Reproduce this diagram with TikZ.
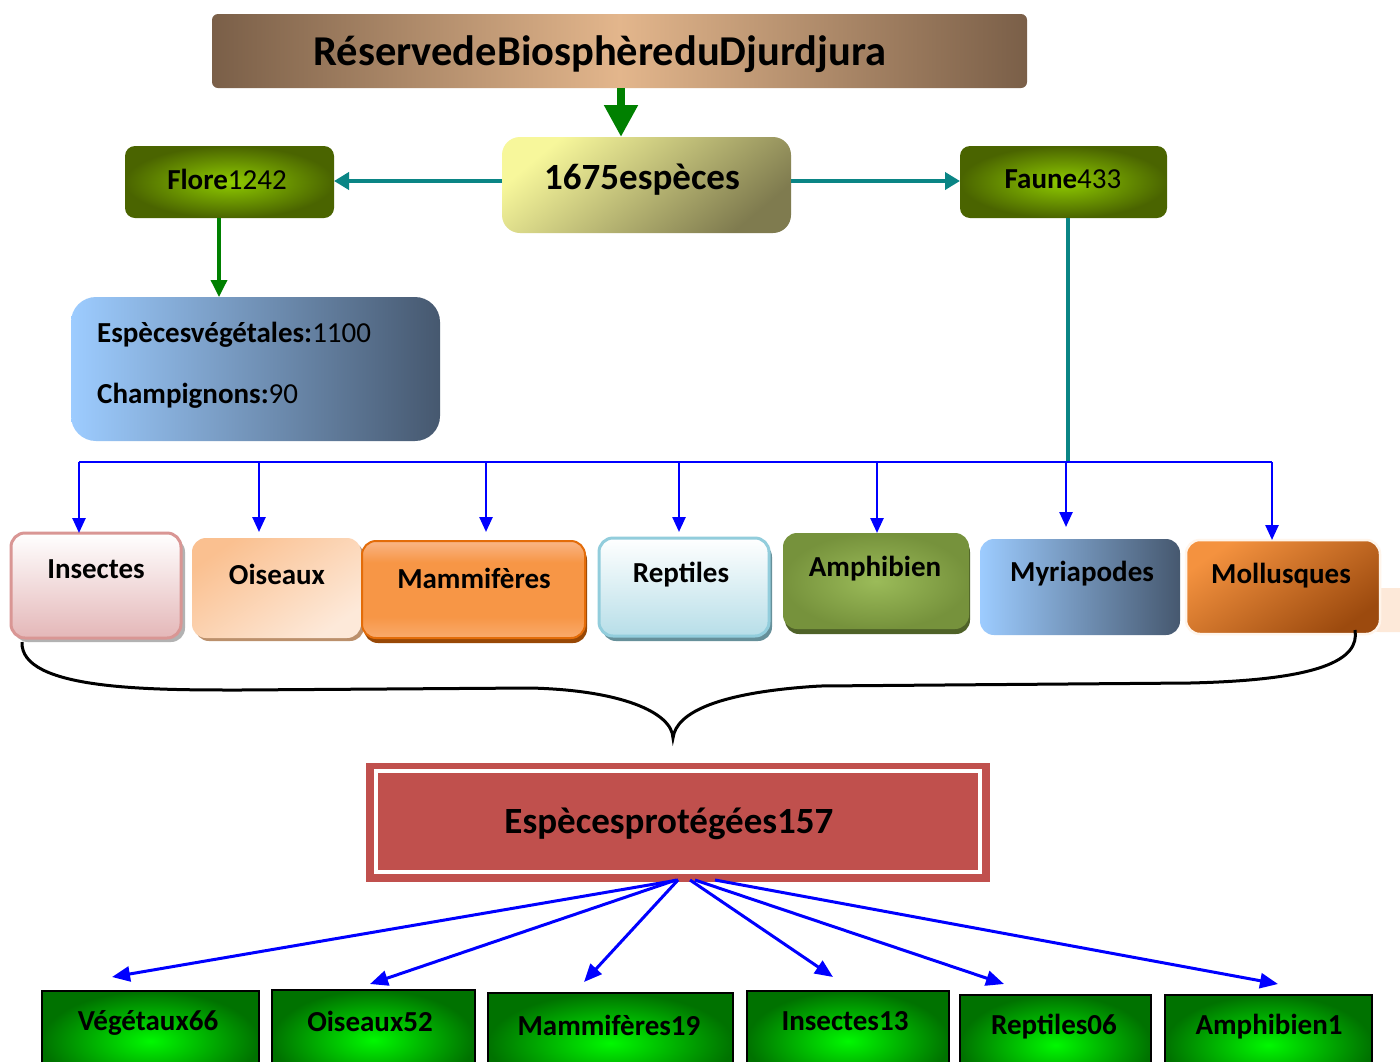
\documentclass[tikz,border=0pt]{standalone}
\usepackage{fontspec}
\setmainfont{Carlito}
\usetikzlibrary{arrows.meta}
\definecolor{brownD}{HTML}{7A5F48}
\definecolor{brownL}{HTML}{E3B68C}
\definecolor{yellowL}{HTML}{F7F79B}
\definecolor{oliveD}{HTML}{7F7B4F}
\definecolor{floreIn}{HTML}{8FCB00}
\definecolor{floreOut}{HTML}{4A6400}
\definecolor{blueL}{HTML}{9DCCFF}
\definecolor{blueD}{HTML}{46586F}
\definecolor{pinkB}{HTML}{E4B7B8}
\definecolor{pinkBorder}{HTML}{D99694}
\definecolor{peachA}{HTML}{FAC090}
\definecolor{peachB}{HTML}{FDE9D9}
\definecolor{orangeM}{HTML}{F79646}
\definecolor{orangeT}{HTML}{F9B586}
\definecolor{orangeBt}{HTML}{F9AA6C}
\definecolor{orangeBorder}{HTML}{E36C09}
\definecolor{orangeSh}{HTML}{984806}
\definecolor{reptB}{HTML}{B7DEE8}
\definecolor{reptBorder}{HTML}{92CDDC}
\definecolor{amphIn}{HTML}{9BBB59}
\definecolor{amphOut}{HTML}{76923C}
\definecolor{amphSh}{HTML}{4F6228}
\definecolor{mollA}{HTML}{F4923F}
\definecolor{mollB}{HTML}{9C4A0E}
\definecolor{redBox}{HTML}{C0504D}
\definecolor{greenIn}{HTML}{00F800}
\definecolor{greenOut}{HTML}{007200}
\definecolor{tealA}{HTML}{0A8585}
\definecolor{greenArr}{HTML}{008000}
\definecolor{blueArr}{HTML}{0000FF}
\pgfdeclareverticalshading{mammshade}{100bp}{color(0bp)=(orangeBt); color(25bp)=(orangeBt); color(36bp)=(orangeM); color(64bp)=(orangeM); color(75bp)=(orangeT); color(100bp)=(orangeT)}
\tikzset{
  base/.style={inner sep=0pt, outer sep=0pt},
  rowtxt/.style={font=\fontsize{29}{30}\selectfont\bfseries, inner sep=0pt},
  bigtxt/.style={font=\fontsize{37}{38}\selectfont\bfseries, inner sep=0pt},
  busarr/.style={draw=blueArr, line width=2.5pt, -{Triangle[width=13pt,length=15pt]}},
  protarr/.style={draw=blueArr, line width=3pt, -{Triangle[width=15pt,length=18pt]}},
  tealarr/.style={draw=tealA, line width=4pt, -{Triangle[width=17pt,length=15pt]}},
  greenbox/.style={base, draw=black, line width=2.5pt, inner color=greenIn, outer color=greenOut}
}
\begin{document}
\begin{tikzpicture}[x=1pt,y=-1pt]
\useasboundingbox (0,0) rectangle (1400,1061);
\clip (0,0) rectangle (1400,1061);
\fill[white] (0,0) rectangle (1400,1061);

% title
\node[base, rounded corners=6pt, left color=brownD, right color=brownD, middle color=brownL,
      minimum width=815pt, minimum height=74pt] (title) at (619.5,51) {};
\node[font=\fontsize{42.5}{44}\selectfont\bfseries, inner sep=0pt] (ttitle) at (600,54) {RéservedeBiosphèreduDjurdjura};

% 1675 especes
\node[base, rounded corners=18pt, top color=yellowL, bottom color=oliveD, shading angle=40,
      minimum width=289pt, minimum height=96pt] (total) at (646.5,185) {};
\node[bigtxt] (ttotal) at (642,180) {1675espèces};

% flore / faune
\node[base, rounded corners=10pt, inner color=floreIn, outer color=floreOut,
      minimum width=209pt, minimum height=72pt] (flore) at (229.5,182) {};
\node[rowtxt, font=\fontsize{29}{30}\selectfont] (tflore) at (227,179) {\textbf{Flore}1242};
\node[base, rounded corners=10pt, inner color=floreIn, outer color=floreOut,
      minimum width=207pt, minimum height=72pt] (faune) at (1063.5,182) {};
\node[rowtxt, font=\fontsize{29}{30}\selectfont] (tfaune) at (1063,179) {\textbf{Faune}433};

% arrows top
\draw[draw=greenArr, line width=8pt, -{Triangle[width=32pt,length=32pt]}] (title.south -| 621,0) -- (total.north -| 621,0);
\draw[tealarr] (total.west |- 0,181) -- (flore.east |- 0,181);
\draw[tealarr] (total.east |- 0,181) -- (faune.west |- 0,181);

% especes vegetales
\node[base, rounded corners=25pt, left color=blueL, right color=blueD,
      minimum width=369pt, minimum height=144pt] (vege) at (255.5,369) {};
\node[rowtxt, font=\fontsize{29}{30}\selectfont, anchor=west] (tvege1) at (97,335) {\textbf{Espècesvégétales:}1100};
\node[rowtxt, font=\fontsize{29}{30}\selectfont, anchor=west] (tvege2) at (97,396) {\textbf{Champignons:}90};
\draw[draw=greenArr, line width=3.5pt, -{Triangle[width=16pt,length=17pt]}] (flore.south -| 219,0) -- (vege.north -| 219,0);

% faune line and bus
\coordinate (fj) at (1068,462);
\draw[draw=tealA, line width=4pt] (faune.south -| fj) -- (fj);
\coordinate (b1) at (79,462);
\coordinate (b2) at (259,462);
\coordinate (b3) at (486,462);
\coordinate (b4) at (679,462);
\coordinate (b5) at (877,462);
\coordinate (b6) at (1066,462);
\coordinate (b7) at (1272,462);
\draw[draw=blueArr, line width=2.5pt] (b1) -- (b7);

% row boxes
\fill[peachB, rounded corners=20pt] (1360,588) rectangle (1440,632);
% Insectes
\fill[black!30, rounded corners=14pt] (14,538) rectangle (185,642);
\node[base, rounded corners=14pt, top color=white, bottom color=pinkB, draw=pinkBorder, line width=3pt,
      minimum width=170pt, minimum height=105pt] (insectes) at (96,585.5) {};
\node[rowtxt] (tinsectes) at (96,569) {Insectes};
% Oiseaux
\fill[black!25!peachA, rounded corners=14pt] (195,542) rectangle (364,641);
\node[base, rounded corners=14pt, top color=peachA, bottom color=peachB, shading angle=35,
      minimum width=169pt, minimum height=100pt] (oiseaux) at (276.5,588) {};
\node[rowtxt] (toiseaux) at (277,574) {Oiseaux};
% Mammiferes
\fill[orangeSh, rounded corners=14pt] (364,546) rectangle (587,643);
\node[base, rounded corners=14pt, shading=mammshade,
      draw=orangeBorder, line width=2pt, minimum width=223pt, minimum height=97pt] (mammif) at (473.5,589.5) {};
\node[rowtxt] (tmammif) at (474,578) {Mammifères};
% Reptiles
\fill[black!30!reptBorder, rounded corners=14pt] (602,543) rectangle (772,641);
\node[base, rounded corners=14pt, top color=white, bottom color=reptB, draw=reptBorder, line width=3pt,
      minimum width=170pt, minimum height=98pt] (reptiles) at (684,587) {};
\node[rowtxt] (treptiles) at (681,575) {Reptiles};
% Amphibien
\fill[amphSh, rounded corners=14pt] (785,538) rectangle (970,634);
\node[base, rounded corners=14pt, inner color=amphIn, outer color=amphOut,
      minimum width=186pt, minimum height=96pt] (amphib) at (876,581) {};
\node[rowtxt] (tamphib) at (875,569) {Amphibien};
% Myriapodes
\node[base, rounded corners=14pt, left color=blueL, right color=blueD,
      minimum width=200pt, minimum height=96pt] (myria) at (1080,587) {};
\node[rowtxt] (tmyria) at (1082,574) {Myriapodes};
% Mollusques
\node[base, rounded corners=14pt, top color=mollA, bottom color=mollB, shading angle=35,
      draw=white!92!orange, line width=2.5pt, minimum width=194pt, minimum height=94pt] (mollus) at (1283,587) {};
\node[rowtxt] (tmollus) at (1281,576) {Mollusques};

% bus arrows
\draw[busarr] (b1) -- (b1 |- insectes.north);
\draw[busarr] (b2) -- (b2 |- 0,532);
\draw[busarr] (b3) -- (b3 |- 0,532);
\draw[busarr] (b4) -- (b4 |- 0,532);
\draw[busarr] (b5) -- (b5 |- amphib.north);
\draw[busarr] (b6) -- (b6 |- 0,527);
\draw[busarr] (b7) -- (b7 |- mollus.north);

% brace
\coordinate (brL) at (22,642);
\coordinate (brM) at (673,738);
\coordinate (brR) at (1355,630);
\draw[line width=3pt, black] (brL) .. controls (20,690) and (150,690) .. (240,690)
   -- (530,688) .. controls (620,690) and (672,712) .. (brM)
   .. controls (676,712) and (720,692) .. (820,686)
   -- (1190,683) .. controls (1320,680) and (1360,660) .. (brR);

% protected species
\node[base, fill=redBox, minimum width=624pt, minimum height=119pt] (prot) at (678,822.5) {};
\draw[white, line width=4pt] ([shift={(10,8)}]prot.north west) rectangle ([shift={(-10,-10)}]prot.south east);
\node[bigtxt] (tprot) at (669,824) {Espècesprotégées157};

% bottom boxes
\node[greenbox, minimum width=217pt, minimum height=100pt] (g1) at (150.5,1041) {};
\node[rowtxt] (tg1) at (148,1023) {Végétaux66};
\node[greenbox, minimum width=203pt, minimum height=100pt] (g2) at (373.5,1040) {};
\node[rowtxt] (tg2) at (370,1021) {Oiseaux52};
\node[greenbox, minimum width=245pt, minimum height=100pt] (g3) at (610.5,1043) {};
\node[rowtxt] (tg3) at (609,1025) {Mammifères19};
\node[greenbox, minimum width=202pt, minimum height=100pt] (g4) at (848,1041) {};
\node[rowtxt] (tg4) at (845,1021) {Insectes13};
\node[greenbox, minimum width=191pt, minimum height=100pt] (g5) at (1055.5,1045) {};
\node[rowtxt] (tg5) at (1054,1027) {Reptiles06};
\node[greenbox, minimum width=207pt, minimum height=100pt] (g6) at (1268.5,1045) {};
\node[rowtxt] (tg6) at (1269,1027) {Amphibien1};

% protected arrows
\coordinate (v1) at (112,977);
\coordinate (v2) at (370,984);
\coordinate (v3) at (584,982);
\coordinate (v4) at (833,977);
\coordinate (v5) at (1004,984);
\coordinate (v6) at (1278,984);
\draw[protarr] ([yshift=2pt]prot.south) -- (v1);
\draw[protarr] ([xshift=-2pt,yshift=2pt]prot.south) -- (v2);
\draw[protarr] ([yshift=2pt]prot.south) -- (v3);
\draw[protarr] ([xshift=12pt,yshift=2pt]prot.south) -- (v4);
\draw[protarr] ([xshift=17pt,yshift=2pt]prot.south) -- (v5);
\draw[protarr] ([xshift=37pt,yshift=2pt]prot.south) -- (v6);
\end{tikzpicture}
\end{document}
